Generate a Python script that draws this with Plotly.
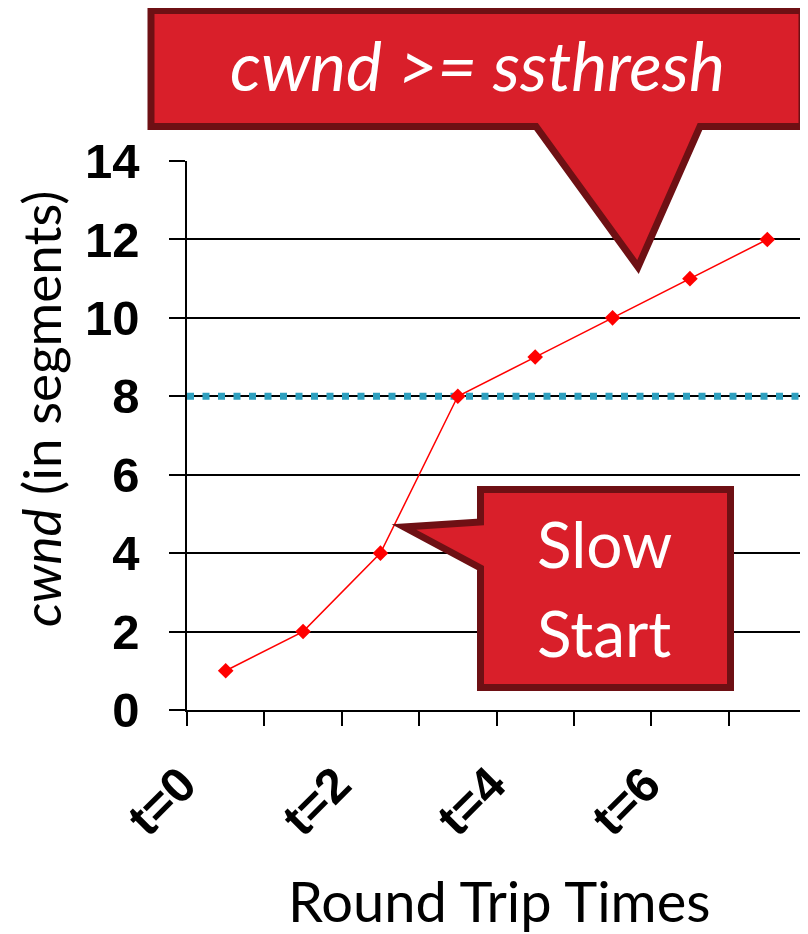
import plotly.graph_objects as go

# ---- data ----
rtt_positions = [0.5, 1.5, 2.5, 3.5, 4.5, 5.5, 6.5, 7.5]
cwnd_values = [1, 2, 4, 8, 9, 10, 11, 12]
ssthresh_x = [0, 8]
ssthresh_y = [8, 8]
x_tick_vals = [0.5, 2.5, 4.5, 6.5]
x_tick_text = ["t=0", "t=2", "t=4", "t=6"]
y_tick_vals = [0, 2, 4, 6, 8, 10, 12, 14]

# page is rendered with an 8px body margin, so the figure is 800x926
OFF = 8
W, H = 808 - OFF, 934 - OFF
L, R, T, B = 187, 806, 161, 710  # plot area in page pixels


def px(x):
    return (x - L) / (R - L)


def py(y):
    return (B - y) / (B - T)


def path(points):
    return "M " + " L ".join(f"{px(x):.5f},{py(y):.5f}" for x, y in points) + " Z"


FILL = "#d91f2a"
EDGE = "#6e1014"
TEAL = "#2fa0bf"
TXT_FONT = "Lato"

fig = go.Figure()

fig.add_trace(go.Scatter(
    x=ssthresh_x, y=ssthresh_y, mode="lines",
    line=dict(color=TEAL, width=7, dash="7px,8.5px"),
    hoverinfo="skip", showlegend=False,
))
fig.add_trace(go.Scatter(
    x=rtt_positions, y=cwnd_values, mode="lines+markers",
    line=dict(color="#ff0000", width=1.5),
    marker=dict(symbol="diamond", size=12, color="#ff0000"),
    showlegend=False,
))

top_callout = [(151, 10.5), (802, 10.5), (802, 126.5), (700, 126.5),
               (638, 267), (536, 126.5), (151, 126.5)]
bottom_callout = [(480.5, 489.5), (730.5, 489.5), (730.5, 687.5),
                  (480.5, 687.5), (480.5, 568), (404, 527), (480.5, 522)]

shapes = [
    dict(type="path", xref="paper", yref="paper", path=path(top_callout),
         fillcolor=FILL, line=dict(color=EDGE, width=7), layer="above"),
    dict(type="path", xref="paper", yref="paper", path=path(bottom_callout),
         fillcolor=FILL, line=dict(color=EDGE, width=7), layer="above"),
]


def ann(text, x, y, size, color, angle=0):
    return dict(text=text, x=px(x), y=py(y), xref="paper", yref="paper",
                showarrow=False, xanchor="center", yanchor="middle", textangle=angle,
                font=dict(family=TXT_FONT, size=size, color=color))


annotations = [
    ann("<i>cwnd >= ssthresh</i>", 477, 64, 68, "white"),
    ann("Slow", 604, 543, 64, "white"),
    ann("Start", 604, 632, 64, "white"),
    ann("<i>cwnd</i> (in segments)", 40, 409, 53, "black", -90),
    ann("Round Trip Times", 499, 900, 56, "black"),
]

fig.update_layout(
    width=W, height=H,
    margin=dict(l=L - OFF, r=808 - R, t=T - OFF, b=934 - B, pad=0),
    paper_bgcolor="white", plot_bgcolor="white",
    shapes=shapes, annotations=annotations,
    showlegend=False,
)

fig.update_xaxes(
    range=[0, 8], showgrid=False, zeroline=False,
    showline=True, linecolor="black", linewidth=1.5,
    tickmode="array", tickvals=x_tick_vals, ticktext=x_tick_text,
    ticks="", tickangle=-45,
    tickfont=dict(family="Liberation Sans", size=49, color="black", weight="bold"),
    ticklabelshift=-44, ticklabelstandoff=24,
    minor=dict(tickmode="linear", tick0=0, dtick=1, ticks="outside", ticklen=14,
               tickcolor="black", tickwidth=1.5, showgrid=False),
)
fig.update_yaxes(
    range=[0, 14], tickmode="array", tickvals=y_tick_vals,
    showgrid=True, gridcolor="black", gridwidth=1.5, zeroline=False,
    showline=True, linecolor="black", linewidth=1.5,
    ticks="outside", ticklen=16, tickcolor="black", tickwidth=1.5,
    tickfont=dict(family="Liberation Sans", size=49, color="black", weight="bold"),
    ticklabelstandoff=20,
)

fig.write_html("out.html")
